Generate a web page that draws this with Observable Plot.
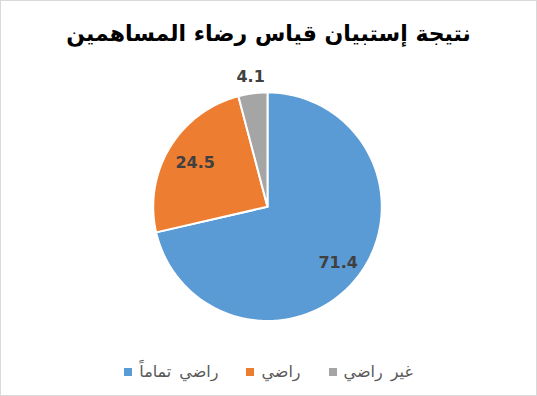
<!DOCTYPE html>
<html>
<head>
<meta charset="utf-8">
<script src="https://cdn.jsdelivr.net/npm/d3@7"></script>
<script src="https://cdn.jsdelivr.net/npm/@observablehq/plot@0.6"></script>
<style>
  html, body { margin: 0; padding: 0; background: #fff; }
  #chart { position: relative; width: 537px; height: 396px; box-sizing: border-box; border: 1px solid #d9d9d9; background: #fff; overflow: hidden; }
  #title { position: absolute; left: 0; right: 0; top: 19px; text-align: center; font: bold 22px "DejaVu Sans", sans-serif; line-height: 28px; color: #000; direction: rtl; }
  #plot { position: absolute; left: -1px; top: 59px; }
  #legend { position: absolute; left: 0; right: 0; top: 361px; display: flex; justify-content: center; align-items: center; direction: ltr; font: 16px "DejaVu Sans", sans-serif; color: #595959; word-spacing: 3px; }
  .item { display: flex; align-items: center; margin: 0 14px; }
  .sw { width: 8px; height: 8px; margin-right: 7px; }
  .lab { direction: rtl; }
</style>
</head>
<body>
<div id="chart">
  <div id="title"></div>
  <div id="plot"></div>
  <div id="legend"></div>
</div>
<script>
const titleText = "نتيجة إستبيان قياس رضاء المساهمين";
const categories = ["راضي تماماً", "راضي", "غير راضي"];
const values = [71.4, 24.5, 4.1];
const valueLabels = ["71.4", "24.5", "4.1"];
const colors = ["#5B9BD5", "#ED7D31", "#A5A5A5"];

document.getElementById("title").textContent = titleText;

const arcs = d3.pie().sort(null).value(d => d)(values);

// polygon points per slice
const pts = [];
arcs.forEach((a, i) => {
  const name = categories[i];
  pts.push({name, x: 0, y: 0});
  const n = Math.max(2, Math.ceil((a.endAngle - a.startAngle) / (Math.PI / 180)));
  for (let k = 0; k <= n; k++) {
    const t = a.startAngle + (a.endAngle - a.startAngle) * k / n;
    pts.push({name, x: Math.sin(t), y: Math.cos(t)});
  }
  pts.push({name, x: 0, y: 0});
});

const labels = arcs.map((a, i) => {
  const mid = (a.startAngle + a.endAngle) / 2;
  const frac = (a.endAngle - a.startAngle) < 0.3 ? 1.15 : (i === 0 ? 0.79 : 0.74);
  return {name: categories[i], text: valueLabels[i], x: frac * Math.sin(mid), y: frac * Math.cos(mid)};
});

const chart = Plot.plot({
  width: 537,
  height: 285,
  marginLeft: 153,
  marginRight: 155,
  marginTop: 32,
  marginBottom: 24,
  x: {domain: [-1, 1], axis: null},
  y: {domain: [-1, 1], axis: null},
  color: {domain: categories, range: colors},
  style: {background: "transparent", overflow: "visible"},
  marks: [
    Plot.line(pts, {x: "x", y: "y", z: "name", fill: "name", stroke: "white", strokeWidth: 2, strokeLinejoin: "round", curve: "linear"}),
    Plot.text(labels, {x: "x", y: "y", text: "text", fill: "#404040", fontSize: 16, fontWeight: "bold", fontFamily: "DejaVu Sans, sans-serif"})
  ]
});
document.getElementById("plot").appendChild(chart);

const legend = document.getElementById("legend");
categories.forEach((c, i) => {
  const item = document.createElement("div");
  item.className = "item";
  const sw = document.createElement("span");
  sw.className = "sw";
  sw.style.background = colors[i];
  const lab = document.createElement("span");
  lab.className = "lab";
  lab.textContent = c;
  item.appendChild(sw);
  item.appendChild(lab);
  legend.appendChild(item);
});
</script>
</body>
</html>
